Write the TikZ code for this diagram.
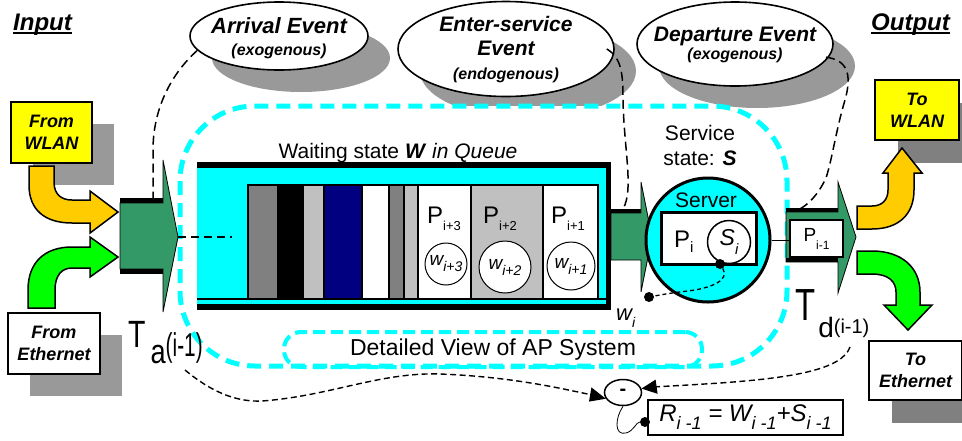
\documentclass[tikz,border=0pt]{standalone}
\usepackage{fontspec}
\usepackage{graphicx}
\setmainfont{Liberation Sans}
\usetikzlibrary{shapes.geometric,shadows}

\definecolor{portgreen}{RGB}{51,153,102}
\definecolor{aqua}{RGB}{0,255,255}
\definecolor{limegreen}{RGB}{0,255,0}
\definecolor{amber}{RGB}{255,204,0}
\definecolor{lemon}{RGB}{255,255,0}
\definecolor{navyblue}{RGB}{0,0,128}
\definecolor{midgrey}{RGB}{128,128,128}
\definecolor{palegrey}{RGB}{192,192,192}
\definecolor{shadowgrey}{RGB}{153,153,153}
\definecolor{deepshadow}{RGB}{128,128,128}

\newcommand\fsz[1]{\fontsize{#1}{#1}\selectfont}
\newcommand\idx[3]{\raisebox{-#2}{\fontsize{#1}{#1}\selectfont #3}}

\begin{document}
\begin{tikzpicture}[x=1pt,y=-1pt,
  evt/.style={ellipse, draw, line width=1.6pt, fill=white, inner sep=0pt,
    drop shadow={shadow xshift=22pt, shadow yshift=-22pt, fill=shadowgrey, opacity=1}},
  evtext/.style={align=center, inner sep=0pt, font=\fontsize{21}{22}\selectfont\bfseries\itshape},
  iobox/.style={draw, line width=1.5pt, inner sep=0pt, align=center,
    font=\fontsize{18}{22}\selectfont\bfseries\itshape},
  leftshadow/.style={drop shadow={shadow xshift=22pt, shadow yshift=-22pt, fill=shadowgrey, opacity=1}},
  rightshadow/.style={drop shadow={shadow xshift=23pt, shadow yshift=-23pt, fill=deepshadow, opacity=1}},
  lbl/.style={inner sep=0pt},
  region/.style={draw=aqua, line width=5pt, dash pattern=on 14pt off 8pt, rounded corners=75pt, fill=white},
  subregion/.style={draw=aqua, line width=4pt, dash pattern=on 12pt off 6pt, rounded corners=17pt},
  port/.style={fill=portgreen, draw=black, line width=0.8pt},
  blockarrow/.style={draw=black, line width=1.5pt, line join=miter},
  bar/.style={draw=black, line width=2.5pt},
  wc/.style={circle, draw, line width=1pt, fill=white, inner sep=0pt},
  dot/.style={circle, fill=black, inner sep=0pt, minimum size=10pt},
  evlink/.style={draw=black, line width=1.5pt, dash pattern=on 9pt off 5pt},
  timelink/.style={draw=black, line width=1.4pt, dash pattern=on 6pt off 3.5pt},
  headtip/.style={fill=black, line join=miter},
]
\useasboundingbox (0,0) rectangle (962,440);

% ---- event bubbles with their shadows
\node[evt, minimum width=178pt, minimum height=68pt] (arr) at (279,36) {};
\node[evt, minimum width=216pt, minimum height=95pt] (ent) at (506,49) {};
\node[evt, minimum width=196pt, minimum height=84pt] (dep) at (735,44) {};
\node[evtext, font=\fontsize{22}{22}\selectfont\bfseries\itshape] (arrtxt) at (279,38) {Arrival Event\\{\fsz{16}(exogenous)}};
\node[evtext, font=\fontsize{21}{24}\selectfont\bfseries\itshape] (enttxt) at (506,50) {Enter-service\\Event\\{\fsz{16}(endogenous)}};
\node[evtext, font=\fontsize{21}{18}\selectfont\bfseries\itshape] (deptxt) at (735,45) {Departure Event\\{\fsz{16}(exogenous)}};

% ---- access point system boundary
\path[region] (180,106) rectangle (787,366);
\node[subregion, minimum width=418pt, minimum height=35pt, font=\fsz{23}] (apv) at (493,349.5) {Detailed View of AP System};

% ---- waiting queue
\fill[aqua] (197,163) rectangle (611,310);
\fill (197,162) rectangle (611,168);
\fill (197,304) rectangle (611,310);
\fill (606,162) rectangle (611,310);
\draw[line width=2.5pt] (197,299) -- (606,299);
\foreach \xa/\xb/\col in {248/278/midgrey, 278/303/black, 303/324/palegrey, 324/362/navyblue,
  362/389/white, 389/404/midgrey, 404/418/palegrey, 418/471/white, 471/543/palegrey, 543/598/white}
  \filldraw[bar, fill=\col] (\xa,185) rectangle (\xb,299);
\node[lbl, anchor=base, font=\fsz{21}] (wlbl) at (398,158) {Waiting state \textbf{\textit{W}} \textit{in Queue}};

\node[lbl, anchor=base west, font=\fsz{24}] (p3) at (427,223) {P\idx{13}{7pt}{i+3}};
\node[lbl, anchor=base west, font=\fsz{24}] (p2) at (483,223) {P\idx{13}{7pt}{i+2}};
\node[lbl, anchor=base west, font=\fsz{24}] (p1) at (551,223) {P\idx{13}{7pt}{i+1}};
\node[wc, minimum size=42pt] (w3) at (446,264) {\itshape\fsz{19}w\idx{14}{6pt}{i+3}};
\node[wc, minimum size=52pt] (w2) at (505,267) {\itshape\fsz{19}w\idx{14}{6pt}{i+2}};
\node[wc, minimum size=48pt] (w1) at (571,266) {\itshape\fsz{19}w\idx{14}{6pt}{i+1}};

% ---- ports
\path[port] (120,203) -- (163,203) -- (163,160) -- (178,237) -- (163,312) -- (163,269) -- (120,269) -- cycle;
\fill (120,198) rectangle (163,203);
\fill (120,269) rectangle (163,274);
\path[port] (611,213) -- (641,213) -- (641,182) -- (652,237) -- (641,292) -- (641,260) -- (611,260) -- cycle;
\fill (611,209) rectangle (641,213);
\path[port] (786,212) -- (838,212) -- (838,182) -- (856,237) -- (838,293) -- (838,262) -- (786,262) -- cycle;
\fill (786,208) rectangle (838,212);
\fill (786,258) rectangle (838,262);

% ---- server
\node[circle, draw, line width=3pt, fill=aqua, minimum size=124pt, inner sep=0pt] (srv) at (708,240) {};
\node[lbl, anchor=base, font=\fsz{21}] (srvlbl) at (706,207) {Server};
\node[draw, line width=3pt, fill=white, minimum width=95pt, minimum height=52pt, inner sep=0pt] (sbox) at (708.5,238) {};
\node[lbl, anchor=base west, font=\fsz{24}] (pi) at (674,247) {P\idx{15}{5pt}{i}};
\node[wc, line width=1.5pt, minimum size=43pt] (si) at (729,242) {\itshape\fsz{23}S\idx{15}{9pt}{i}};
\node[lbl, align=center, font=\fontsize{21}{25}\selectfont] (svc) at (700,145) {Service\\state: \textbf{\textit{S}}};

\node[draw, line width=2pt, fill=white, minimum width=53pt, minimum height=37pt, inner sep=0pt] (pbox) at (816.5,238.5) {\fsz{19}P\idx{12}{8pt}{i-1}};
\draw[line width=1pt] (srv.east) -- (srv.east -| pbox.west);

\node[dot] (dsrv) at (720,264) {};
\node[dot] (dwi) at (649,297) {};
\node[lbl, anchor=base west, font=\itshape\fsz{22}] (wi) at (616,320) {w\idx{14}{7pt}{i}};
\draw[draw=black, line width=1.3pt, dash pattern=on 4pt off 3pt] (dsrv) .. controls (730,280) and (712,288) .. (688,291) .. controls (670,293) and (660,295) .. (dwi);

% ---- input / output boxes
\node[iobox, fill=lemon, minimum width=81pt, minimum height=61pt, leftshadow] (fw) at (51.5,132.5) {From\\WLAN};
\node[iobox, fill=white, minimum width=92pt, minimum height=61pt, leftshadow] (fe) at (54,343.5) {From\\Ethernet};
\node[iobox, fill=lemon, minimum width=84pt, minimum height=60pt, rightshadow] (tw) at (917,110) {To\\WLAN};
\node[iobox, fill=white, minimum width=93pt, minimum height=59pt, rightshadow] (te) at (915.5,370.5) {To\\Ethernet};

% ---- bent block arrows
\path[blockarrow, fill=amber] (29,166) -- (29,185) .. controls (29,210) and (45,223) .. (72,223) -- (90,223) -- (90,233) -- (118,212) -- (90,191) -- (90,200) -- (72,200) .. controls (62,200) and (54,195) .. (54,182) -- (54,166) -- cycle;
\path[blockarrow, fill=limegreen] (28,308) -- (28,290) .. controls (28,262) and (45,247) .. (72,247) -- (90,247) -- (90,237) -- (118,257) -- (90,277) -- (90,268) -- (72,268) .. controls (62,268) and (55,275) .. (55,290) -- (55,308) -- cycle;
\path[blockarrow, fill=amber] (857,206) -- (872,206) .. controls (882,206) and (888,200) .. (888,190) -- (888,173) -- (883,173) -- (902,148) -- (922,173) -- (914,173) -- (914,190) .. controls (914,215) and (898,229) .. (872,229) -- (857,229) -- cycle;
\path[blockarrow, fill=limegreen] (857,251) -- (872,251) .. controls (902,251) and (920,268) .. (920,292) -- (920,305) -- (932,305) -- (908,330) -- (884,305) -- (896,305) -- (896,292) .. controls (896,282) and (889,274) .. (872,274) -- (857,274) -- cycle;

% ---- headings
\node[lbl, anchor=base west, font=\fsz{24}\bfseries\itshape] (inp) at (13,30) {Input};
\draw[line width=2pt] ([yshift=-3pt]inp.base west) -- ([yshift=-3pt]inp.base east);
\node[lbl, anchor=base west, font=\fsz{24}\bfseries\itshape] (outp) at (871,30) {Output};
\draw[line width=2pt] ([yshift=-3pt]outp.base west) -- ([yshift=-3pt]outp.base east);

% ---- time stamps
\node[lbl, anchor=base west] (Ta) at (128,347) {\scalebox{0.75}[1]{\fsz{38}T}\hspace{5pt}\raisebox{-16pt}{\scalebox{0.8}[1]{\fsz{34}a}\raisebox{7pt}{\scalebox{0.63}[1]{\fsz{33}(i-1)}}}};
\node[lbl, anchor=base west] (Td) at (795,320) {\scalebox{0.73}[1]{\fsz{45}T}\hspace{3pt}\raisebox{-17pt}{\fsz{28}d\raisebox{4pt}{\fsz{20}(i-1)}}};

% ---- response time
\node[ellipse, draw, line width=1.5pt, fill=white, minimum width=37pt, minimum height=26pt, inner sep=0pt, font=\fsz{20}\bfseries] (mn) at (623,392.5) {-};
\node[draw, line width=1.5pt, fill=white, minimum width=195pt, minimum height=35pt, inner sep=0pt] (eq) at (745.5,417.5) {\itshape\fsz{24}R\idx{18}{8pt}{i -1} = W\idx{18}{8pt}{i -1}+S\idx{18}{8pt}{i -1}};
\node[dot] (deq) at (645,422) {};
\draw[line width=0.8pt] (mn.south) .. controls (615,418) and (614,436) .. (626,433) .. controls (634,431) and (636,422) .. (deq);

% ---- event links
\coordinate (lptop) at (153,198);
\coordinate (cptop) at (623,209);
\coordinate (rptop) at (798,210);
\coordinate (lptip) at (178,237);
\coordinate (qin) at (232,237);
\draw[evlink] (arr.190) .. controls (170,75) and (153,110) .. (153,150) -- (lptop);
\draw[evlink] ([xshift=-8pt]ent.east) .. controls (622,58) and (623,75) .. (623,100) .. controls (624,150) and (634,190) .. (cptop);
\draw[evlink] ([xshift=-3pt]dep.-8) .. controls (848,60) and (852,75) .. (845,100) .. controls (836,130) and (832,160) .. (826,178) .. controls (818,195) and (808,205) .. (rptop);
\draw[line width=2.5pt, dash pattern=on 8pt off 5pt] (lptip) -- (qin);

% ---- time links into the subtraction node, with filled heads
\coordinate (tatail) at (185,370);
\coordinate (tdtail) at (850,347);
\coordinate (mnleft) at (mn.200);
\coordinate (mnright) at (mn.12);
\draw[timelink] (tatail) .. controls (215,395) and (240,402) .. (262,401) .. controls (330,396) and (380,372) .. (440,374) .. controls (520,377) and (575,392) .. (592,394.8);
\fill[headtip] (mnleft) -- (589,401.6) -- (591.4,387.4) -- cycle;
\draw[timelink] (tdtail) .. controls (842,370) and (790,378) .. (720,383) .. controls (690,385) and (670,386) .. (655,386.9);
\fill[headtip] (mnright) -- (655.6,379.6) -- (657.6,393.8) -- cycle;
\end{tikzpicture}
\end{document}
